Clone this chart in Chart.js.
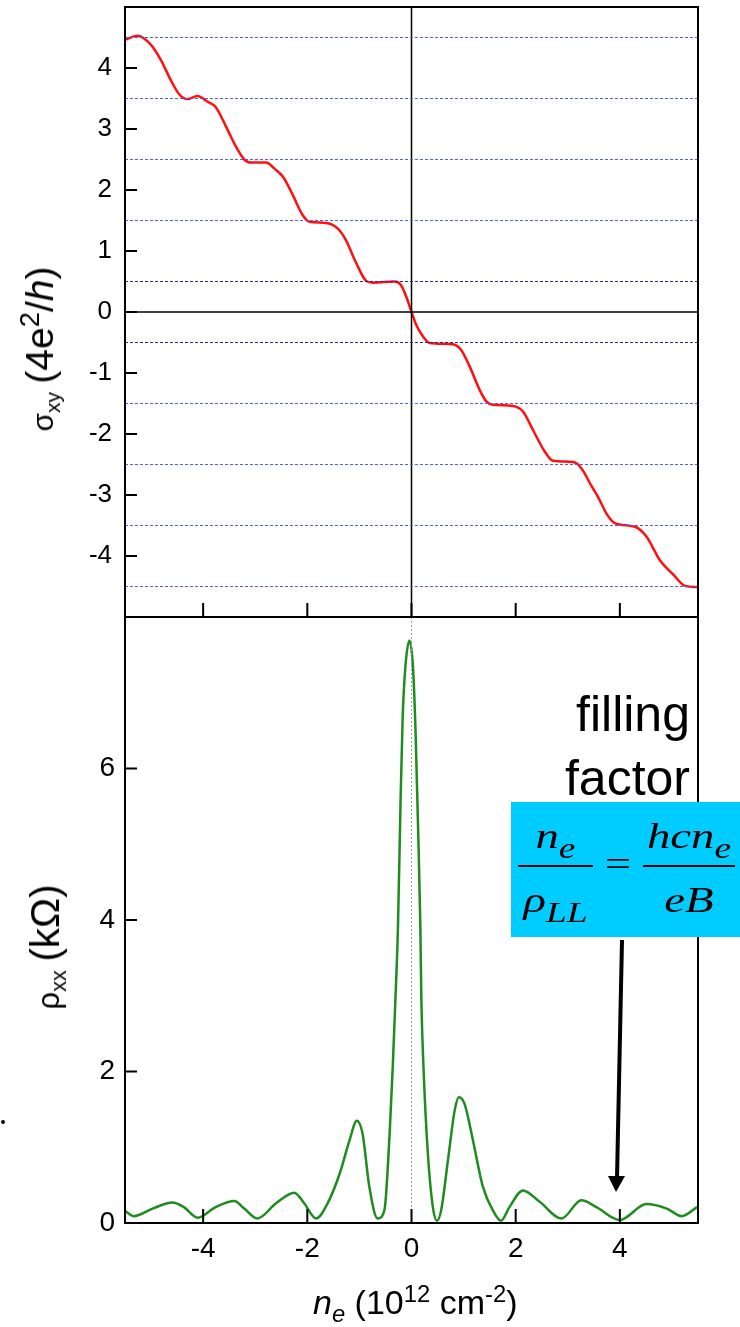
<!DOCTYPE html>
<html>
<head>
<meta charset="utf-8">
<script src="https://cdn.jsdelivr.net/npm/chart.js@4.4.0/dist/chart.umd.min.js"></script>
<style>
  html, body { margin: 0; padding: 0; background: #fff; }
  body { width: 740px; height: 1327px; position: relative; overflow: hidden; font-family: "Liberation Sans", Arial, sans-serif; color: #000; }
  canvas { position: absolute; left: 0; }
  #hallChart { top: 0; }
  #rhoChart { top: 600px; }
  .title { position: absolute; white-space: nowrap; }
  .rot { transform: translate(-50%, -50%) rotate(-90deg); }
  .title sub, .title sup { font-size: 0.7em; line-height: 0; }
  .big { font-size: 1.3em; }
  #ffText { position: absolute; right: 50px; top: 682px; font-size: 50px; line-height: 64px; text-align: right; }
  #ffBox { position: absolute; left: 511px; top: 802px; width: 229px; height: 135px; background: #00CCFF; }
  .math { position: absolute; font-family: "Liberation Serif", "Times New Roman", serif; font-style: italic; font-size: 36px; line-height: 36px; text-align: center; white-space: nowrap; transform: scaleX(1.3); }
  .math sub { font-size: 0.8em; vertical-align: -0.35em; line-height: 0; }
  .bar { position: absolute; height: 2px; background: #000; }
  #arrow { position: absolute; left: 0; top: 0; }
  #dot { position: absolute; left: 1px; top: 1120px; width: 4px; height: 4px; border-radius: 2px; background: #000; }
</style>
</head>
<body>
<canvas id="hallChart" width="740" height="630"></canvas>
<canvas id="rhoChart" width="740" height="727"></canvas>

<div class="title rot" style="left:40px; top:349px; font-size:30px;">&sigma;<sub>xy</sub> <span class="big">(4e<sup>2</sup>/<i>h</i>)</span></div>
<div class="title rot" style="left:46px; top:947px; font-size:31px;">&rho;<sub>xx</sub> <span class="big">(k&Omega;)</span></div>
<div class="title" style="left:313px; top:1283px; font-size:34px;"><i>n</i><sub><i>e</i></sub> (10<sup>12</sup> cm<sup>-2</sup>)</div>

<div id="ffText">filling<br>factor</div>
<div id="ffBox"></div>
<div class="math" style="left:518px; width:75px; top:818px;">n<sub>e</sub></div>
<div class="bar" style="left:518px; width:75px; top:865px;"></div>
<div class="math" style="left:518px; width:75px; top:882px;">&rho;<sub>LL</sub></div>
<div class="math" style="left:603px; width:30px; top:846px; font-style:normal;">=</div>
<div class="math" style="left:643px; width:92px; top:818px;">hcn<sub>e</sub></div>
<div class="bar" style="left:643px; width:92px; top:865px;"></div>
<div class="math" style="left:643px; width:92px; top:882px;">eB</div>

<svg id="arrow" width="740" height="1327">
  <line x1="622" y1="940" x2="617" y2="1178" stroke="#000" stroke-width="4"/>
  <polygon points="608,1176 625,1176 616,1192" fill="#000"/>
</svg>
<div id="dot"></div>

<script>
// sigma_xy (4e^2/h) vs n_e (10^12 cm^-2)
const sigmaN = [-5.5, -5.26, -5.0, -4.81, -4.62, -4.46, -4.30, -4.11, -3.92, -3.76, -3.56, -3.37, -3.21, -3.08,
    -2.79, -2.63, -2.47, -2.28, -2.09, -1.96, -1.64, -1.42, -1.26, -1.06, -0.87, -0.74, -0.33, -0.20, -0.10, 0.0,
    0.09, 0.22, 0.35, 0.79, 0.95, 1.12, 1.31, 1.44, 1.56, 1.95, 2.14, 2.33, 2.56, 2.72, 3.10, 3.26, 3.46, 3.58,
    3.74, 3.90, 4.29, 4.51, 4.77, 5.03, 5.25, 5.5];
const sigmaXY = [4.46, 4.53, 4.38, 4.13, 3.80, 3.57, 3.49, 3.54, 3.45, 3.36, 3.04, 2.71, 2.50, 2.45,
    2.45, 2.35, 2.22, 1.92, 1.59, 1.48, 1.46, 1.37, 1.18, 0.80, 0.51, 0.48, 0.50, 0.44, 0.25, 0.0,
    -0.21, -0.40, -0.51, -0.53, -0.62, -0.90, -1.28, -1.47, -1.52, -1.54, -1.63, -1.93, -2.29, -2.44, -2.46, -2.56, -2.86, -3.03,
    -3.30, -3.46, -3.52, -3.68, -4.07, -4.31, -4.49, -4.51];

// rho_xx (kOhm) vs n_e
const rhoN = [-5.5, -5.33, -4.97, -4.59, -4.37, -4.11, -3.76, -3.40, -3.21, -2.96, -2.60, -2.25, -2.06, -1.83,
    -1.61, -1.38, -1.19, -1.05, -0.94, -0.81, -0.65, -0.52, -0.42, -0.36, -0.31, -0.26, -0.21, -0.17, -0.12, -0.04,
    0.03, 0.08, 0.13, 0.17, 0.19, 0.23, 0.31, 0.41, 0.49, 0.57, 0.70, 0.83, 0.91, 1.02, 1.18, 1.37, 1.56, 1.72,
    1.88, 2.14, 2.46, 2.88, 3.26, 3.55, 4.0, 4.51, 4.90, 5.19, 5.48];
const rhoXX = [0.16, 0.09, 0.19, 0.27, 0.21, 0.07, 0.21, 0.29, 0.19, 0.06, 0.26, 0.40, 0.26, 0.06,
    0.26, 0.65, 1.09, 1.35, 1.18, 0.48, 0.06, 0.17, 1.18, 2.06, 2.93, 3.90, 5.57, 6.66, 7.32, 7.69,
    7.32, 6.44, 5.13, 3.90, 2.93, 2.06, 0.96, 0.21, 0.03, 0.17, 0.83, 1.49, 1.66, 1.57, 1.09, 0.48, 0.17, 0.03,
    0.21, 0.43, 0.28, 0.06, 0.30, 0.21, 0.04, 0.25, 0.19, 0.09, 0.21];

// quantum Hall plateau guide levels
const plateauLevels = [4.5, 3.5, 2.5, 1.5, 0.5, -0.5, -1.5, -2.5, -3.5, -4.5];

const xTickValues = [-4, -2, 0, 2, 4];
const sigmaTickValues = [-4, -3, -2, -1, 0, 1, 2, 3, 4];
const rhoTickValues = [0, 2, 4, 6];
const xRange = [-5.5, 5.5];
const sigmaRange = [-5, 5];
const rhoRange = [0, 8];

const sansFont = '"Liberation Sans", Arial, sans-serif';

function toPoints(xs, ys) {
    return xs.map(function (x, i) { return { x: x, y: ys[i] }; });
}

// box around the plot area and tick marks pointing inward
const framePlugin = {
    id: 'frame',
    afterDatasetsDraw(chart, args, opts) {
        const ctx = chart.ctx;
        const a = chart.chartArea;
        ctx.save();
        ctx.strokeStyle = '#000';
        ctx.lineWidth = 2;
        ctx.beginPath();
        for (const v of opts.yTicks) {
            const y = chart.scales.y.getPixelForValue(v);
            ctx.moveTo(a.left, y);
            ctx.lineTo(a.left + 12, y);
        }
        for (const v of opts.xTicks) {
            const x = chart.scales.x.getPixelForValue(v);
            ctx.moveTo(x, a.bottom);
            ctx.lineTo(x, a.bottom - 14);
        }
        ctx.stroke();
        ctx.strokeRect(a.left, a.top, a.right - a.left, a.bottom - a.top);
        ctx.restore();
    }
};

function setTicks(values) {
    return function (scale) {
        scale.ticks = values.map(function (v) { return { value: v }; });
    };
}

// fixed axis size, no extra room for half labels
function fixSize(w, h) {
    return function (scale) {
        if (w !== null) scale.width = w;
        if (h !== null) scale.height = h;
        scale.paddingTop = 0;
        scale.paddingBottom = 0;
        scale.paddingLeft = 0;
        scale.paddingRight = 0;
    };
}

const guideSets = plateauLevels.map(function (lvl) {
    const dark = Math.abs(lvl) === 0.5;
    return {
        data: [{ x: xRange[0], y: lvl }, { x: xRange[1], y: lvl }],
        showLine: true,
        borderColor: dark ? '#2a2a8a' : '#5a5ae6',
        borderWidth: 1,
        borderDash: [3, 2],
        pointRadius: 0
    };
});

new Chart(document.getElementById('hallChart'), {
    type: 'scatter',
    data: {
        datasets: guideSets.concat([
            {
                data: [{ x: xRange[0], y: 0 }, { x: xRange[1], y: 0 }],
                showLine: true, borderColor: '#000', borderWidth: 1.5, pointRadius: 0
            },
            {
                data: [{ x: 0, y: sigmaRange[0] }, { x: 0, y: sigmaRange[1] }],
                showLine: true, borderColor: '#000', borderWidth: 1.5, pointRadius: 0
            },
            {
                data: toPoints(sigmaN, sigmaXY),
                showLine: true,
                borderColor: '#ff1010',
                borderWidth: 2.5,
                pointRadius: 0,
                cubicInterpolationMode: 'monotone'
            }
        ])
    },
    options: {
        responsive: false,
        animation: false,
        layout: { padding: { top: 7, right: 42, bottom: 13, left: 0 } },
        plugins: {
            legend: { display: false },
            tooltip: { enabled: false },
            frame: { xTicks: xTickValues, yTicks: sigmaTickValues }
        },
        scales: {
            x: {
                type: 'linear',
                min: xRange[0],
                max: xRange[1],
                display: false,
                afterBuildTicks: setTicks(xTickValues)
            },
            y: {
                type: 'linear',
                min: sigmaRange[0],
                max: sigmaRange[1],
                afterBuildTicks: setTicks(sigmaTickValues),
                afterFit: fixSize(125, null),
                grid: { display: false, drawTicks: false },
                border: { display: false },
                ticks: {
                    padding: 13,
                    color: '#000',
                    font: { family: sansFont, size: 26 },
                    callback: function (v) { return String(v); }
                }
            }
        }
    },
    plugins: [framePlugin]
});

new Chart(document.getElementById('rhoChart'), {
    type: 'scatter',
    data: {
        datasets: [
            {
                data: [{ x: 0, y: rhoRange[0] }, { x: 0, y: rhoRange[1] }],
                showLine: true, borderColor: '#999', borderWidth: 1, borderDash: [2, 2], pointRadius: 0
            },
            {
                data: toPoints(rhoN, rhoXX),
                showLine: true,
                borderColor: '#1e8c1e',
                borderWidth: 2.5,
                pointRadius: 0,
                cubicInterpolationMode: 'monotone'
            }
        ]
    },
    options: {
        responsive: false,
        animation: false,
        layout: { padding: { top: 17, right: 42, bottom: 0, left: 0 } },
        plugins: {
            legend: { display: false },
            tooltip: { enabled: false },
            frame: { xTicks: xTickValues, yTicks: rhoTickValues }
        },
        scales: {
            x: {
                type: 'linear',
                min: xRange[0],
                max: xRange[1],
                afterBuildTicks: setTicks(xTickValues),
                afterFit: fixSize(null, 104),
                grid: { display: false, drawTicks: false },
                border: { display: false },
                ticks: {
                    padding: 9,
                    color: '#000',
                    maxRotation: 0,
                    font: { family: sansFont, size: 28 },
                    callback: function (v) { return String(v); }
                }
            },
            y: {
                type: 'linear',
                min: rhoRange[0],
                max: rhoRange[1],
                afterBuildTicks: setTicks(rhoTickValues),
                afterFit: fixSize(125, null),
                grid: { display: false, drawTicks: false },
                border: { display: false },
                ticks: {
                    padding: 10,
                    color: '#000',
                    font: { family: sansFont, size: 28 },
                    callback: function (v) { return String(v); }
                }
            }
        }
    },
    plugins: [framePlugin]
});
</script>
</body>
</html>
